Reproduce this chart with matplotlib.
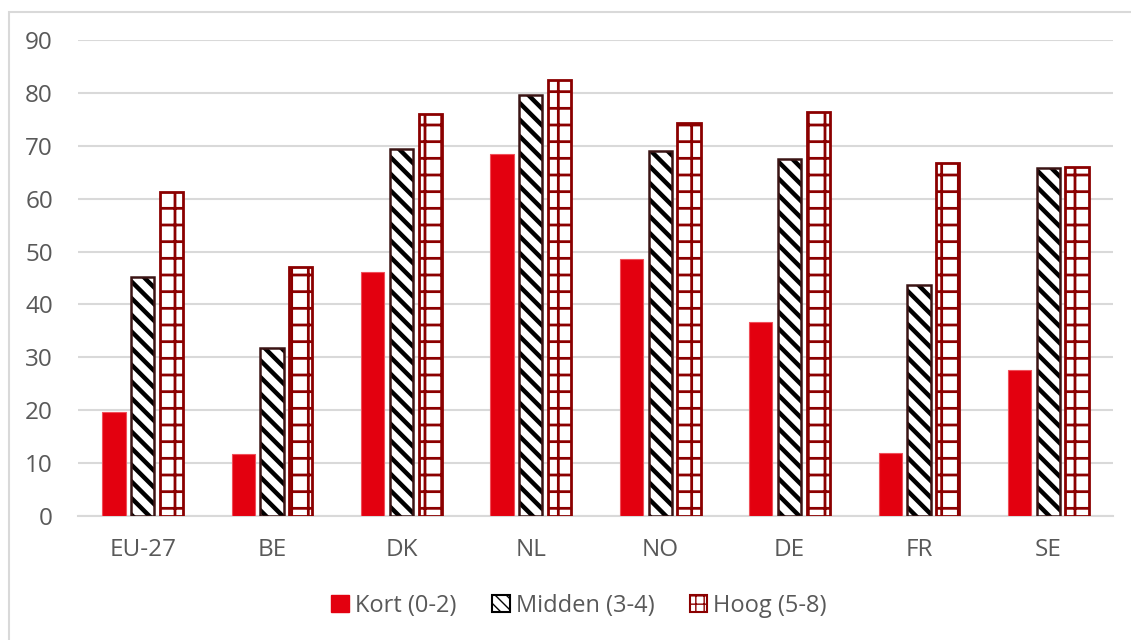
import matplotlib
matplotlib.use("Agg")
import matplotlib.pyplot as plt
import matplotlib.patches as mpatches
import numpy as np

# ── Data ──────────────────────────────────────────────────────────────────
COUNTRIES = ["EU-27", "BE", "DK", "NL", "NO", "DE", "FR", "SE"]
KORT   = [19.7, 11.7, 46.1, 68.4, 48.5, 36.7, 11.9, 27.6]
MIDDEN = [45.2, 31.8, 69.3, 79.6, 69.1, 67.5, 43.7, 65.8]
HOOG   = [61.2, 47.1, 76.0, 82.4, 74.4, 76.3, 66.7, 66.0]
SERIES_LABELS = ["Kort (0-2)", "Midden (3-4)", "Hoog (5-8)"]
Y_TICKS = [0, 10, 20, 30, 40, 50, 60, 70, 80, 90]

RED = "#E3000F"
DARK_RED = "#8B0000"
GRID = "#D9D9D9"
TEXT = "#595959"

plt.rcParams["font.family"] = ["Open Sans", "DejaVu Sans"]

fig = plt.figure(figsize=(11.31, 6.40), dpi=100)
ax = fig.add_axes([78 / 1131, 1 - 516 / 640, (1113 - 78) / 1131, (516 - 40) / 640])

# light frame around the whole chart area
fig.patches.append(mpatches.Rectangle(
    (8.5 / 1131, -0.05), 1.1, 1 - 12 / 640 + 0.05, transform=fig.transFigure,
    fill=False, edgecolor=GRID, linewidth=1.5, zorder=0))

x = np.arange(len(COUNTRIES))
step, width = 0.222, 0.18

b1 = ax.bar(x - step, KORT, width, color=RED, edgecolor="#F0505A",
            linewidth=0.8, label=SERIES_LABELS[0], zorder=3)
b2 = ax.bar(x, MIDDEN, width, color="white", edgecolor="black",
            hatch="\\\\", linewidth=0.0, label=SERIES_LABELS[1], zorder=3)
b3 = ax.bar(x + step, HOOG, width, color="white", edgecolor=DARK_RED,
            hatch="+", linewidth=2.0, label=SERIES_LABELS[2], zorder=3)

for p in b2:
    if hasattr(p, "set_hatch_linewidth"):
        p.set_hatch_linewidth(3.2)
for p in b3:
    if hasattr(p, "set_hatch_linewidth"):
        p.set_hatch_linewidth(2.0)

# dark outline on the striped bars, drawn separately so the stripes stay black
ax.bar(x, MIDDEN, width, fill=False, edgecolor="#3B1414", linewidth=1.8, zorder=4)

ax.set_ylim(0, 90)
ax.set_xlim(-0.5, len(COUNTRIES) - 0.5)
ax.set_yticks(Y_TICKS)
ax.set_xticks(x)
ax.set_xticklabels(COUNTRIES)
ax.yaxis.grid(True, color=GRID, linewidth=1.5, zorder=0)
ax.set_axisbelow(True)
for side in ["top", "right", "left"]:
    ax.spines[side].set_visible(False)
ax.spines["bottom"].set_color(GRID)
ax.spines["bottom"].set_linewidth(1.5)
ax.tick_params(axis="both", length=0, labelsize=17.5, colors=TEXT)
ax.tick_params(axis="y", pad=18)
ax.tick_params(axis="x", pad=16)

handles = [
    mpatches.Patch(facecolor=RED, edgecolor=RED, label=SERIES_LABELS[0]),
    mpatches.Patch(facecolor="white", edgecolor="black", hatch="\\\\\\",
                   linewidth=1.5, label=SERIES_LABELS[1]),
    mpatches.Patch(facecolor="white", edgecolor=DARK_RED, hatch="++",
                   linewidth=1.5, label=SERIES_LABELS[2]),
]
leg = fig.legend(handles=handles, loc="center", bbox_to_anchor=(0.512, 1 - 606 / 640),
                 ncol=3, frameon=False, fontsize=17, handlelength=0.75,
                 handleheight=0.75, handletextpad=0.25, columnspacing=1.5)
for t in leg.get_texts():
    t.set_color(TEXT)

fig.savefig("out.png", dpi=100, facecolor="white")
